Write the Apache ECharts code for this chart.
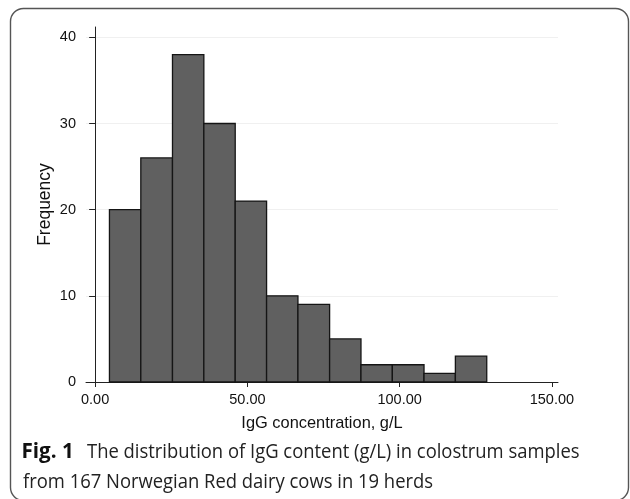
<!DOCTYPE html>
<html>
<head>
<meta charset="utf-8">
<script src="https://cdn.jsdelivr.net/npm/echarts@6/dist/echarts.min.js"></script>
<style>
html,body{margin:0;padding:0;background:#fff;}
#chart{width:630px;height:499px;}
</style>
</head>
<body>
<div id="chart"></div>
<script>
// Bin edges (g/L) and frequencies
const binEdges = [4.7, 15.0, 25.4, 35.7, 46.0, 56.3, 66.6, 77.0, 87.3, 97.6, 108.0, 118.3, 128.6];
const frequencies = [20, 26, 38, 30, 21, 10, 9, 5, 2, 2, 1, 3];
const xTickValues = [0, 50, 100, 150];
const yTickValues = [0, 10, 20, 30, 40];
const xAxisTitle = 'IgG concentration, g/L';
const yAxisTitle = 'Frequency';
const captionBold = 'Fig. 1';
const captionLine1 = 'The distribution of IgG content (g/L) in colostrum samples';
const captionLine2 = 'from 167 Norwegian Red dairy cows in 19 herds';

const bins = frequencies.map((f, i) => [binEdges[i], binEdges[i + 1], f]);

const chart = echarts.init(document.getElementById('chart'), null, {renderer: 'canvas'});
const axisFont = 'Liberation Sans, Arial, sans-serif';
const capFont = '19.6px "Open Sans", sans-serif';

chart.setOption({
  animation: false,
  backgroundColor: '#ffffff',
  grid: {left: 86, right: 72, top: 27, bottom: 117},
  xAxis: {
    type: 'value', min: -3, max: 152,
    axisLine: {show: true, onZero: false, lineStyle: {color: '#222', width: 1}},
    axisTick: {show: true, length: 5, customValues: xTickValues, lineStyle: {color: '#222'}},
    axisLabel: {customValues: xTickValues, color: '#111', fontSize: 14.5, fontFamily: axisFont, margin: 10,
      formatter: v => v.toFixed(2)},
    splitLine: {show: false},
    name: xAxisTitle, nameLocation: 'middle', nameGap: 33, nameMoveOverlap: false,
    nameTextStyle: {color: '#111', fontSize: 16.4, fontFamily: axisFont}
  },
  yAxis: {
    type: 'value', min: 0, max: 41.2,
    axisLine: {show: true, lineStyle: {color: '#222', width: 1}},
    axisTick: {show: true, length: 6, customValues: yTickValues, lineStyle: {color: '#222'}},
    axisLabel: {customValues: yTickValues, color: '#111', fontSize: 14.5, fontFamily: axisFont, margin: 10},
    splitLine: {show: true, lineStyle: {color: '#f0f0f0', width: 1}},
    name: yAxisTitle, nameLocation: 'middle', nameGap: 32, nameRotate: 90, nameMoveOverlap: false,
    nameTextStyle: {color: '#111', fontSize: 17.5, fontFamily: axisFont}
  },
  series: [{
    type: 'custom',
    data: bins,
    encode: {x: [0, 1], y: 2},
    renderItem: function (params, api) {
      const p0 = api.coord([api.value(0), api.value(2)]);
      const p1 = api.coord([api.value(1), 0]);
      return {
        type: 'rect',
        shape: {x: p0[0], y: p0[1], width: p1[0] - p0[0], height: p1[1] - p0[1]},
        style: {fill: '#606060', stroke: '#151515', lineWidth: 1.3}
      };
    }
  }],
  graphic: [
    {type: 'rect', z: 100, silent: true,
      shape: {x: 10.5, y: 8.5, width: 618, height: 492, r: 13},
      style: {fill: 'none', stroke: '#555', lineWidth: 1.4}},
    {type: 'text', x: 21.5, y: 441.5, z: 100,
      style: {text: captionBold, font: 'bold 20.6px "Open Sans", sans-serif', fill: '#111', verticalAlign: 'top'}},
    {type: 'text', x: 87, y: 442, scaleX: 0.94, z: 100,
      style: {text: captionLine1, font: capFont, fill: '#222', verticalAlign: 'top'}},
    {type: 'text', x: 23, y: 472, scaleX: 0.94, z: 100,
      style: {text: captionLine2, font: capFont, fill: '#222', verticalAlign: 'top'}}
  ]
});
</script>
</body>
</html>
